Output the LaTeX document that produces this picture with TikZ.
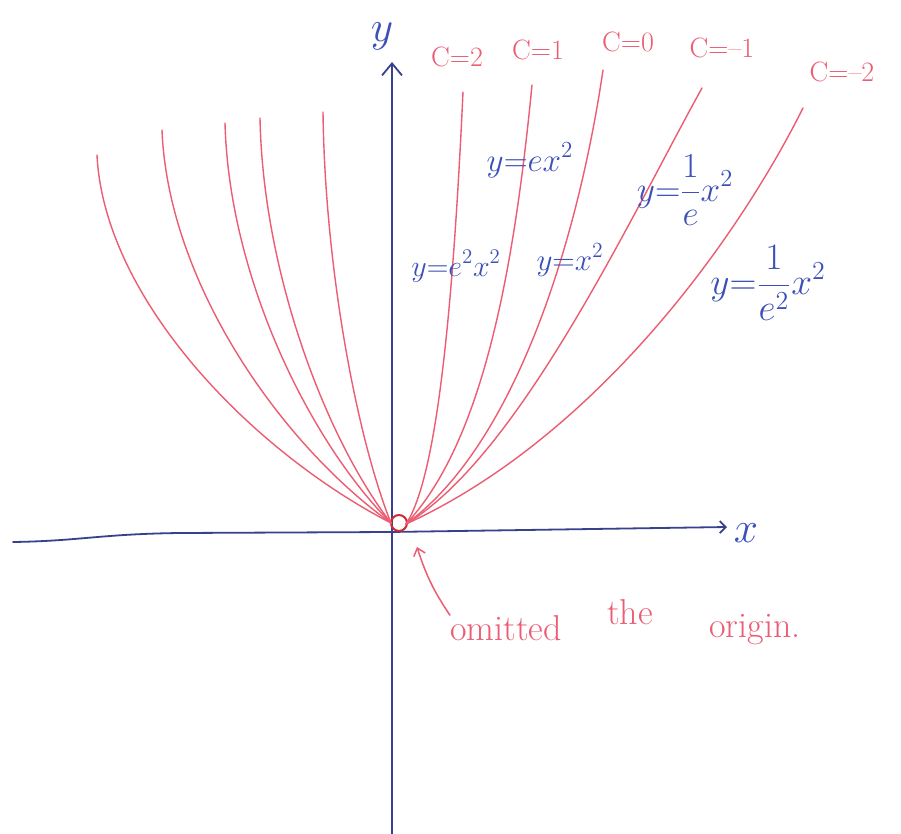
\documentclass[tikz,border=0pt]{standalone}
\usepackage{graphicx}
\usetikzlibrary{arrows.meta}
\definecolor{pred}{RGB}{236,92,114}
\definecolor{dred}{RGB}{205,45,50}
\definecolor{axblue}{RGB}{55,65,140}
\definecolor{lblue}{RGB}{60,80,185}
\newcommand{\scaledmath}[2]{\scalebox{#1}{\fontsize{20}{24}\selectfont$\displaystyle #2$}}
\begin{document}
\begin{tikzpicture}[x=1pt,y=-1pt,
  curve/.style={pred, line width=1.4pt, line cap=round, line join=round},
  axisline/.style={axblue, line width=1.8pt, line cap=round},
  eq/.style={lblue, inner sep=0pt},
  clab/.style={pred, inner sep=0pt, font=\fontsize{28}{32}\selectfont},
  note/.style={pred, inner sep=0pt, font=\fontsize{36}{40}\selectfont}]
\useasboundingbox (0,0) rectangle (901,834);
\fill[white] (0,0) rectangle (901,834);

% axes
\coordinate (yb) at (392,834);
\coordinate (yt) at (392,62);
\coordinate (xl) at (13,542);
\coordinate (xm) at (180,533);
\coordinate (xr) at (727,527);
\draw[axisline, -{Straight Barb[length=12pt,width=20pt,line width=1.8pt]}] (yb) -- (yt);
\draw[axisline, -{Straight Barb[length=6pt,width=12pt,line width=1.8pt]}]
  (xl) .. controls (80,541) and (100,534) .. (xm) -- (390,532) -- (xr);
\node[eq] (ylab) at (382,36) {\scaledmath{2.1}{y}};
\node[eq] (xlab) at (746,533) {\scaledmath{2.1}{x}};

% omitted origin
\node[circle, draw=dred, line width=2pt, minimum size=16pt, inner sep=0pt] (o) at (399,523) {};
\coordinate (ol) at (391,523);
\coordinate (or) at (406,524);

% left curves
\coordinate (l1) at (97,155);
\coordinate (l2) at (162,130);
\coordinate (l3) at (225,123);
\coordinate (l4) at (260,118);
\coordinate (l5) at (323,112);
\draw[curve] (ol) .. controls (250,450) and (104,298) .. (l1);
\draw[curve] (ol) .. controls (281,444) and (168,283) .. (l2);
\draw[curve] (ol) .. controls (311,443) and (229,279) .. (l3);
\draw[curve] (ol) .. controls (328,442) and (263,276) .. (l4);
\draw[curve] (ol) .. controls (358,441) and (325,272) .. (l5);

% right curves
\coordinate (r1) at (463,92);
\coordinate (r2) at (532,85);
\coordinate (r3) at (603,70);
\coordinate (r4) at (702,88);
\coordinate (r5) at (803,108);
\draw[curve] (or) .. controls (435,480) and (452,330) .. (r1);
\draw[curve] (or) .. controls (485,440) and (515,260) .. (r2);
\draw[curve] (or) .. controls (515,445) and (578,240) .. (r3);
\draw[curve] (or) .. controls (520,455) and (630,218) .. (r4);
\draw[curve] (or) .. controls (590,440) and (733,248) .. (r5);

% c labels
\node[clab] (c2) at (457,57) {C=2};
\node[clab] (c1) at (538,50) {C=1};
\node[clab] (c0) at (628,42) {C=0};
\node[clab] (cm1) at (722,48) {C=\textendash 1};
\node[clab] (cm2) at (842,72) {C=\textendash 2};

% equations
\node[eq] (e1) at (530,160) {\scaledmath{1.6}{y{=}ex^2}};
\node[eq] (e2) at (456,266) {\scaledmath{1.45}{y{=}e^2x^2}};
\node[eq] (e0) at (570,260) {\scaledmath{1.5}{y{=}x^2}};
\node[eq] (em1) at (685,190) {\scaledmath{1.7}{y{=}\frac{1}{e}x^2}};
\node[eq] (em2) at (768,283) {\scaledmath{1.8}{y{=}\frac{1}{e^2}x^2}};

% note
\node[note] (omit) at (506,628) {omitted};
\node[note] (the) at (630,612) {the};
\node[note] (orig) at (755,630) {origin.};
\coordinate (tip) at (417,547);
\draw[pred, line width=1.5pt, line cap=round, -{Straight Barb[length=7pt,width=12pt,line width=1.5pt]}]
  (omit.north west) to[bend left=8] (tip);
\end{tikzpicture}
\end{document}
